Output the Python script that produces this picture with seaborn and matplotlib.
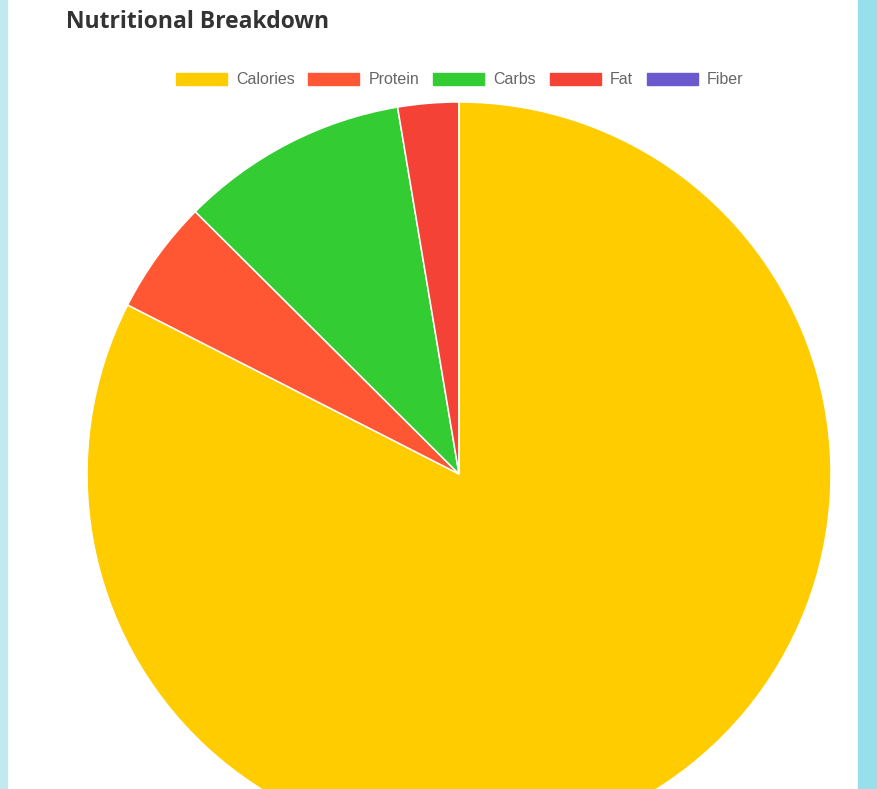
import matplotlib
matplotlib.use("Agg")
import matplotlib.pyplot as plt
import matplotlib.patches as mpatches
import seaborn as sns

# data
nutrients = ["Calories", "Protein", "Carbs", "Fat", "Fiber"]
amounts = [250, 15, 30, 8, 0]
colors = ["#FFCC00", "#FF5733", "#33CC33", "#F44336", "#6A5ACD"]

W, H = 877, 789
sns.set_style("white")
plt.rcParams["font.family"] = ["Liberation Sans", "DejaVu Sans"]

fig = plt.figure(figsize=(W / 100, H / 100), dpi=100, facecolor="white")

# side strips of the page background
fig.patches.append(mpatches.Rectangle((0, 0), 7 / W, 1, transform=fig.transFigure,
                                      color="#c1e9f0", zorder=0))
fig.patches.append(mpatches.Rectangle((858 / W, 0), 19 / W, 1, transform=fig.transFigure,
                                      color="#97e0eb", zorder=0))

ax = fig.add_axes([0, 0, 1, 1])
palette = sns.color_palette(colors)
ax.pie(amounts, colors=palette, startangle=90, counterclock=False,
       center=(459, H - 474), radius=372,
       wedgeprops=dict(edgecolor="white", linewidth=1.1))
ax.set_xlim(0, W)
ax.set_ylim(0, H)
ax.set_aspect("equal")
ax.axis("off")

fig.text(66 / W, 1 - 22 / H, "Nutritional Breakdown", fontsize=16.5, fontweight="bold",
         color="#333333", va="center", ha="left", family=["Open Sans", "DejaVu Sans"])

fs = 11.5
handles = [mpatches.Patch(facecolor=c, edgecolor=c) for c in colors]
fig.legend(handles, nutrients, loc="center", bbox_to_anchor=(459.5 / W, 1 - 80 / H),
           ncol=5, frameon=False, fontsize=fs, labelcolor="#666666",
           handlelength=36.7 / fs, handleheight=10 / fs, handletextpad=6.5 / fs,
           columnspacing=10 / fs, borderpad=0)

fig.savefig("out.png", dpi=100, facecolor="white")
